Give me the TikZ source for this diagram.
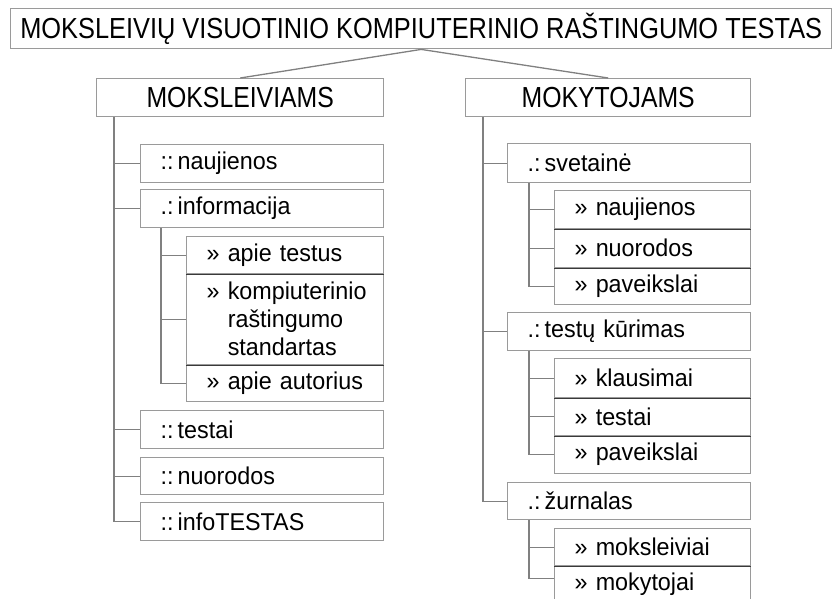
\documentclass[tikz,border=0pt]{standalone}
\usepackage{fontspec}
\setmainfont{Liberation Sans}
\newfontfamily\titlefont{Liberation Sans}[FakeStretch=0.875]
\newfontfamily\headfont{Liberation Sans}[FakeStretch=0.855]
\newfontfamily\itemfont{Liberation Sans}[FakeStretch=0.96]

\definecolor{boxgrey}{HTML}{9A9A9A}
\definecolor{linkgrey}{HTML}{808080}
\definecolor{divgrey}{HTML}{3A3A3A}

\begin{document}
\begin{tikzpicture}[x=1pt,y=-1pt,
  headbox/.style={draw=boxgrey, line width=1.4pt, fill=white, anchor=north west,
    inner sep=0pt, align=center, text=black,
    font=\headfont\fontsize{29}{32}\selectfont},
  itembox/.style={draw=boxgrey, line width=1.4pt, fill=white, anchor=north west,
    inner xsep=20pt, inner ysep=0pt, align=left, text=black,
    font=\itemfont\fontsize{24.3}{28}\selectfont,
    execute at begin node={\hyphenpenalty=10000\relax\exhyphenpenalty=10000\relax}},
  lvltwo/.style={itembox, text width=203pt, minimum width=243pt},
  lsub/.style={itembox, text width=157pt, minimum width=197pt},
  rsub/.style={itembox, text width=156pt, minimum width=196pt},
  link/.style={draw=linkgrey, line width=1.3pt},
  divider/.style={draw=divgrey, line width=1.4pt}
]
\useasboundingbox (0,0) rectangle (840,598);
\clip (0,0) rectangle (840,598);

% trunk positions of the two branches
\coordinate (tL) at (114,0);
\coordinate (sL) at (161,0);
\coordinate (tR) at (483,0);
\coordinate (sR) at (529,0);

% root and first level
\node[headbox, font=\titlefont\fontsize{29}{32}\selectfont,
  minimum width=821pt, minimum height=40pt] (root) at (10,8)
  {MOKSLEIVIŲ VISUOTINIO KOMPIUTERINIO RAŠTINGUMO TESTAS};
\node[headbox, minimum width=287pt, minimum height=38pt] (mL) at (96,78) {MOKSLEIVIAMS};
\node[headbox, minimum width=285pt, minimum height=38pt] (mR) at (465,78) {MOKYTOJAMS};

\draw[link] (root.south) -- (mL.north);
\draw[link] (root.south) -- (mR.north);

% left branch
\node[lvltwo, minimum height=38pt] (ln1) at (140,144) {::\,naujienos};
\node[lvltwo, minimum height=38pt] (ln2) at (140,189) {.:\,informacija};
\node[lvltwo, minimum height=38pt] (ln3) at (140,410) {::\,testai};
\node[lvltwo, minimum height=37pt] (ln4) at (140,457) {::\,nuorodos};
\node[lvltwo, minimum height=38pt] (ln5) at (140,502) {::\,infoTESTAS};

\node[lsub, minimum height=37pt] (ls1) at (186,236) {» apie testus};
\node[lsub, minimum height=91pt] (ls2) at (186,273)
  {\mbox{» kompiuterinio}\\\mbox{\hphantom{» }raštingumo}\\\mbox{\hphantom{» }standartas}};
\node[lsub, minimum height=37pt] (ls3) at (186,364) {» apie autorius};

\draw[divider] (ls1.south west) -- (ls1.south east);
\draw[divider] (ls2.south west) -- (ls2.south east);

\draw[link] (mL.south -| tL) -- (tL |- ln5.west) -- (ln5.west);
\foreach \n in {ln1,ln2,ln3,ln4}
  \draw[link] (tL |- \n.west) -- (\n.west);
\draw[link] (ln2.south -| sL) -- (sL |- ls3.west) -- (ls3.west);
\foreach \n in {ls1,ls2}
  \draw[link] (sL |- \n.west) -- (\n.west);

% right branch
\node[lvltwo, minimum height=39pt] (rn1) at (507,143) {.:\,svetainė};
\node[lvltwo, minimum height=38pt] (rn2) at (507,312) {.:\,testų kūrimas};
\node[lvltwo, minimum height=37pt] (rn3) at (507,482) {.:\,žurnalas};

\node[rsub, minimum height=38pt] (rs1) at (554,190) {» naujienos};
\node[rsub, minimum height=39pt] (rs2) at (554,228) {» nuorodos};
\node[rsub, minimum height=37pt] (rs3) at (554,267) {» paveikslai};

\node[rsub, minimum height=39pt] (rt1) at (554,358) {» klausimai};
\node[rsub, minimum height=38pt] (rt2) at (554,397) {» testai};
\node[rsub, minimum height=38pt] (rt3) at (554,435) {» paveikslai};

\node[rsub, minimum height=37pt] (rz1) at (554,528) {» moksleiviai};
\node[rsub, minimum height=38pt] (rz2) at (554,565) {» mokytojai};

\foreach \n in {rs1,rs2,rt1,rt2,rz1}
  \draw[divider] (\n.south west) -- (\n.south east);

\draw[link] (mR.south -| tR) -- (tR |- rn3.west) -- (rn3.west);
\foreach \n in {rn1,rn2}
  \draw[link] (tR |- \n.west) -- (\n.west);

\draw[link] (rn1.south -| sR) -- (sR |- rs3.west) -- (rs3.west);
\foreach \n in {rs1,rs2}
  \draw[link] (sR |- \n.west) -- (\n.west);

\draw[link] (rn2.south -| sR) -- (sR |- rt3.west) -- (rt3.west);
\foreach \n in {rt1,rt2}
  \draw[link] (sR |- \n.west) -- (\n.west);

\coordinate (rzend) at ([yshift=6pt]rz2.west);
\draw[link] (rn3.south -| sR) -- (sR |- rzend) -- (rzend);
\draw[link] (sR |- rz1.west) -- (rz1.west);

\end{tikzpicture}
\end{document}
